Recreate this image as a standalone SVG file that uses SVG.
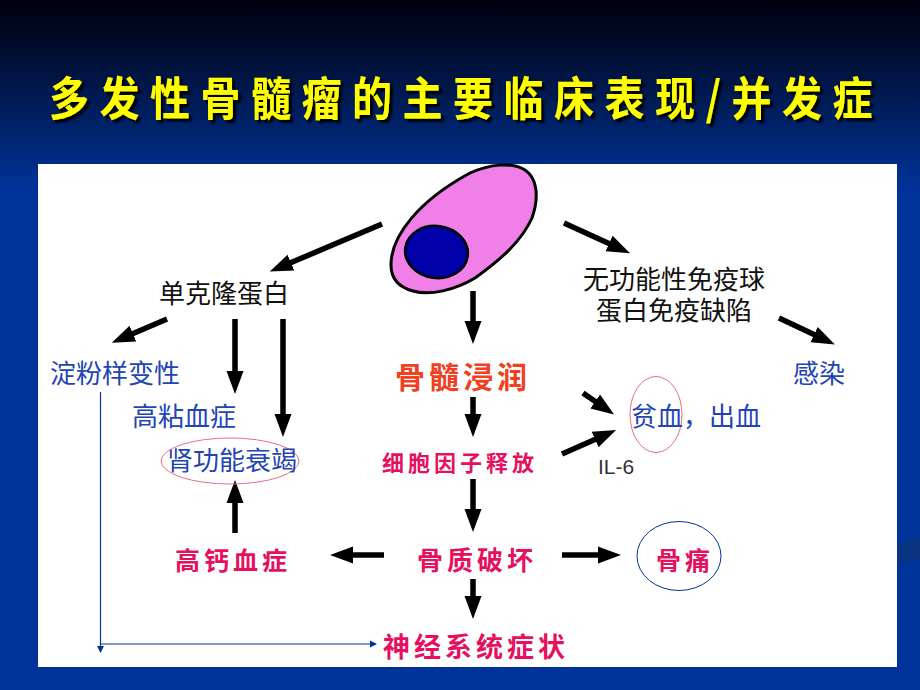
<svg xmlns="http://www.w3.org/2000/svg" width="920" height="690" viewBox="0 0 920 690">
<style>
text{font-family:"Noto Sans CJK SC","Noto Sans",sans-serif;text-anchor:middle}
.blk{font-size:26px;fill:#111}
.blu{font-size:26px;fill:#2244b4}
.red{fill:#f0401f;font-weight:700}
.pnk{fill:#e5105f;font-weight:700}
.arr{stroke:#000;stroke-width:5.5;fill:none;marker-end:url(#head)}
.thin{stroke:#003399;stroke-width:1.2;fill:none;marker-end:url(#tip)}
.ring{fill:none;stroke:#e8707f;stroke-width:1}
</style>
<defs>
<linearGradient id="bg" gradientUnits="userSpaceOnUse" x1="0" y1="0" x2="0" y2="190">
<stop offset="0" stop-color="#00000f"/><stop offset="0.2" stop-color="#000a26"/><stop offset="1" stop-color="#003399"/>
</linearGradient>
<filter id="shadow" x="-5%" y="-20%" width="110%" height="140%">
<feDropShadow dx="3" dy="3" stdDeviation="0.8" flood-color="#000"/>
</filter>
<marker id="head" markerUnits="userSpaceOnUse" markerWidth="26" markerHeight="20" refX="1" refY="10" orient="auto">
<path d="M0,1.5 L23,10 L0,18.5 Z" fill="#000"/>
</marker>
<marker id="tip" markerUnits="userSpaceOnUse" markerWidth="10" markerHeight="10" refX="6" refY="5" orient="auto">
<path d="M0,1.5 L7,5 L0,8.5 Z" fill="#003399"/>
</marker>
</defs>
<rect width="920" height="690" fill="url(#bg)"/>
<polygon points="897,545 920,537 920,560 897,563" fill="#0a3480"/>
<g filter="url(#shadow)"><text id="title" transform="translate(466,115) scale(1,1.15)" font-size="40" font-weight="700" fill="#ffff00" letter-spacing="10.5">多发性骨髓瘤的主要临床表现/并发症</text></g>
<rect id="panel" x="38" y="164" width="859" height="503" fill="#fff"/>
<g id="connectors">
<line class="arr" x1="382" y1="224" x2="290" y2="263"/>
<line class="arr" x1="167" y1="319" x2="132" y2="334"/>
<line class="arr" x1="235" y1="319" x2="235" y2="372"/>
<line class="arr" x1="283" y1="319" x2="283" y2="415"/>
<line class="arr" x1="564" y1="223" x2="610" y2="244"/>
<line class="arr" x1="779" y1="318" x2="815" y2="335"/>
<line class="arr" x1="473" y1="291" x2="473" y2="322"/>
<line class="arr" x1="473" y1="397" x2="473" y2="415"/>
<line class="arr" x1="473" y1="479" x2="473" y2="510"/>
<line class="arr" x1="473" y1="579" x2="473" y2="597"/>
<line class="arr" x1="235" y1="533" x2="235" y2="502"/>
<line class="arr" x1="384" y1="555" x2="352" y2="555"/>
<line class="arr" x1="562" y1="555" x2="599" y2="555"/>
<line class="arr" x1="583" y1="393" x2="596" y2="402"/>
<line class="arr" x1="562" y1="454" x2="596" y2="439"/>
<line class="thin" x1="100.5" y1="392" x2="100.5" y2="652"/>
<line class="thin" x1="100.5" y1="644" x2="376" y2="644"/>
</g>
<g id="cell">
<path d="M391,265 C391,235 420,200 470,173 C490,164 512,162 525,170 C536,177 540,195 532,218 C522,240 503,258 475,278 C455,290 430,296 413,291 C398,287 391,278 391,265 Z" fill="#f080e8" stroke="#000" stroke-width="3"/>
<ellipse cx="436.5" cy="252" rx="31.5" ry="26" transform="rotate(8 436.5 252)" fill="#0000a8" stroke="#000" stroke-width="2.5"/>
</g>
<g id="node-monoclonal"><text class="blk" x="224" y="303">单克隆蛋白</text></g>
<g id="node-amyloid"><text class="blu" x="115" y="383">淀粉样变性</text></g>
<g id="node-viscosity"><text class="blu" x="184" y="426">高粘血症</text></g>
<g id="node-renal"><ellipse class="ring" cx="230" cy="461" rx="69" ry="23"/><text class="blu" x="232" y="470">肾功能衰竭</text></g>
<g id="node-immune"><text class="blk"><tspan x="674" y="289">无功能性免疫球</tspan><tspan x="674" y="320">蛋白免疫缺陷</tspan></text></g>
<g id="node-infection"><text class="blu" x="819" y="383">感染</text></g>
<g id="node-infiltration"><text class="red" x="463" y="388" font-size="30" letter-spacing="4">骨髓浸润</text></g>
<g id="node-cytokine"><text class="pnk" x="460" y="471" font-size="22" letter-spacing="4">细胞因子释放</text></g>
<g id="node-il6"><text x="616" y="474" font-size="21" fill="#333" style="font-family:'Liberation Sans',sans-serif">IL-6</text></g>
<g id="node-anemia"><ellipse class="ring" cx="656" cy="414.5" rx="26" ry="38"/><text class="blu" x="696" y="426">贫血，出血</text></g>
<g id="node-hypercalcemia"><text class="pnk" x="233" y="570" font-size="25" letter-spacing="4">高钙血症</text></g>
<g id="node-bone"><text class="pnk" x="477" y="570" font-size="26" letter-spacing="4">骨质破坏</text></g>
<g id="node-pain"><ellipse cx="679" cy="556" rx="42" ry="34.5" fill="none" stroke="#003399" stroke-width="1"/><text class="pnk" x="685" y="570" font-size="25" letter-spacing="4">骨痛</text></g>
<g id="node-neuro"><text class="pnk" x="476" y="657" font-size="27" letter-spacing="4">神经系统症状</text></g>
</svg>
